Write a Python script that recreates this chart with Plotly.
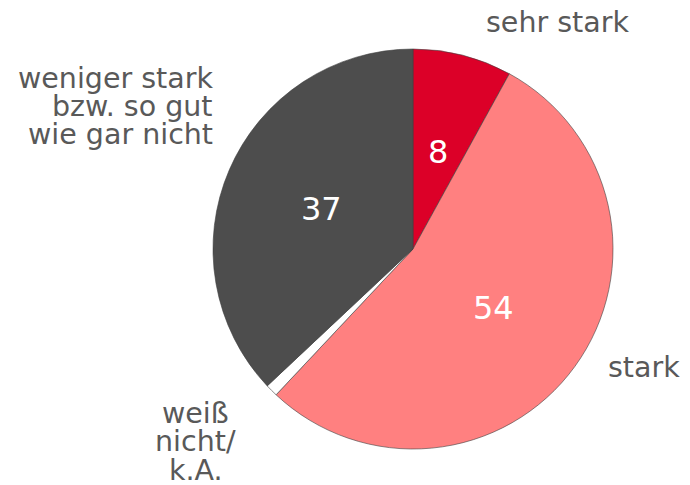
import math
import plotly.graph_objects as go

categories = ["sehr stark", "stark", "weiß nicht/ k.A.", "weniger stark bzw. so gut wie gar nicht"]
values = [8, 54, 1, 37]
label_lines = [["sehr stark"], ["stark"], ["weiß", "nicht/", "k.A."], ["weniger stark", "bzw. so gut", "wie gar nicht"]]
colors = ["#dc0028", "#ff8080", "#ffffff", "#4d4d4d"]
show_value = [True, True, False, True]

OFF = 8  # page body margin offset
W, H = 690 - OFF, 485 - OFF
cx, cy, r = 413 - OFF, 249 - OFF, 200

fig = go.Figure(go.Pie(
    labels=categories,
    values=values,
    sort=False,
    direction="clockwise",
    rotation=0,
    marker=dict(colors=colors, line=dict(color="#404040", width=0.6)),
    textinfo="none",
    hoverinfo="label+value",
    domain=dict(x=[(cx - r) / W, (cx + r) / W], y=[(H - cy - r) / H, (H - cy + r) / H]),
    showlegend=False,
))

annotations = []
# value labels at half radius along each slice's mid angle
total = sum(values)
cum = 0
for v, s in zip(values, show_value):
    mid = (cum + v / 2) / total * 2 * math.pi
    cum += v
    if not s:
        continue
    px = cx + 0.5 * r * math.sin(mid)
    py = cy - 0.5 * r * math.cos(mid)
    annotations.append(dict(
        x=px / W, y=1 - py / H, xref="paper", yref="paper", text=str(v),
        showarrow=False, xanchor="center", yanchor="middle",
        font=dict(family="DejaVu Sans", size=32, color="white"),
    ))

# category label anchor positions in screen pixels: (x, y of first line, xanchor)
label_pos = [(557, 23, "center"), (682, 367, "right"), (196, 413, "center"), (215, 78, "right")]
line_h = 28.5
for lines, (px, py, xa) in zip(label_lines, label_pos):
    for i, line in enumerate(lines):
        annotations.append(dict(
            x=(px - OFF) / W, y=1 - (py - OFF + i * line_h) / H, xref="paper", yref="paper",
            text=line, showarrow=False, xanchor=xa, yanchor="middle",
            font=dict(family="DejaVu Sans", size=28.5, color="#595959"),
        ))

fig.update_layout(
    width=W, height=H,
    margin=dict(l=0, r=0, t=0, b=0),
    paper_bgcolor="white", plot_bgcolor="white",
    annotations=annotations,
)

fig.write_html("out.html")
